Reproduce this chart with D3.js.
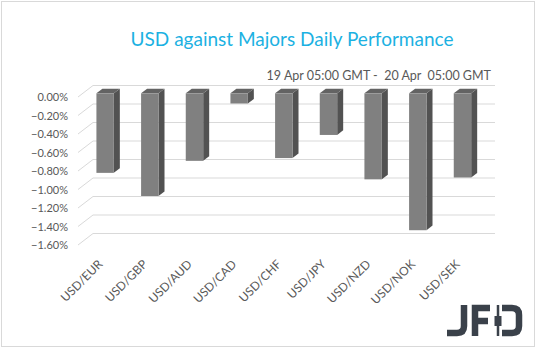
<!DOCTYPE html>
<html>
<head>
<meta charset="utf-8">
<script src="https://cdn.jsdelivr.net/npm/d3@7"></script>
<style>
  html, body { margin: 0; padding: 0; background: #fff; }
  svg { display: block; font-family: Lato, "Open Sans", sans-serif; }
</style>
</head>
<body>
<div id="chart"></div>
<script>
// Chart data
const pairs = ["USD/EUR", "USD/GBP", "USD/AUD", "USD/CAD", "USD/CHF", "USD/JPY", "USD/NZD", "USD/NOK", "USD/SEK"];
const changes = [-0.86, -1.11, -0.73, -0.11, -0.70, -0.45, -0.93, -1.48, -0.91];
const yTicks = [0, -0.2, -0.4, -0.6, -0.8, -1.0, -1.2, -1.4, -1.6];
const titleText = "USD against Majors Daily Performance";
const periodText = "19 Apr 05:00 GMT -  20 Apr  05:00 GMT";

(function () {
    const W = 538, H = 351;
    // 3D depth offset between front plane and back wall
    const depthX = 15, depthY = -11.5;

    const svg = d3.select("#chart")
        .append("svg")
        .attr("width", W)
        .attr("height", H);

    // outer frame
    svg.append("rect")
        .attr("x", 1.5).attr("y", 1.5)
        .attr("width", 533).attr("height", 345)
        .attr("fill", "#fff")
        .attr("stroke", "#d9d9d9");

    svg.append("text")
        .attr("x", 292).attr("y", 46)
        .attr("text-anchor", "middle")
        .attr("font-size", 19)
        .attr("fill", "#1cb1e2")
        .text(titleText);

    svg.append("text")
        .attr("x", 491).attr("y", 80)
        .attr("text-anchor", "end")
        .attr("font-size", 12.5)
        .attr("fill", "#595959")
        .style("white-space", "pre")
        .text(periodText);

    // scales on the front plane
    const x = d3.scaleBand()
        .domain(pairs)
        .range([78, 480])
        .paddingInner(0.61)
        .paddingOuter(0.305);

    const y = d3.scaleLinear()
        .domain([-1.6, 0])
        .range([245, 97]);

    // gridlines: side wall diagonal + back wall line
    const grid = svg.append("g");
    yTicks.forEach(t => {
        const yf = y(t);
        grid.append("path")
            .attr("d", `M78,${yf}L${78 + depthX},${yf + depthY}H495`)
            .attr("fill", "none")
            .attr("stroke", "#d9d9d9")
            .attr("stroke-width", 1);
    });

    // y axis labels
    const yAxis = svg.append("g")
        .attr("transform", "translate(68,0)")
        .call(d3.axisLeft(y).tickValues(yTicks).tickSize(0).tickPadding(0));
    yAxis.select(".domain").remove();
    yAxis.selectAll("text")
        .attr("font-family", "Lato, sans-serif")
        .attr("font-size", 11)
        .attr("fill", "#595959")
        .text(d => (d === 0 ? "0.00" : d3.format(".2f")(d)) + "%");

    // 3D bars
    const fd = 0.32, bd = 0.72; // front/back depth of bar boxes
    const bars = svg.append("g").selectAll("g")
        .data(pairs.map((p, i) => ({ pair: p, value: changes[i] })))
        .enter().append("g");

    function pt(px, py, d) { return [px + depthX * d, py + depthY * d]; }

    bars.each(function (d) {
        const g = d3.select(this);
        const x0 = x(d.pair), x1 = x0 + x.bandwidth();
        const y0 = y(0), yv = y(d.value);
        const poly = pts => "M" + pts.map(p => p.join(",")).join("L") + "Z";
        // side face
        g.append("path")
            .attr("d", poly([pt(x1, y0, fd), pt(x1, y0, bd), pt(x1, yv, bd), pt(x1, yv, fd)]))
            .attr("fill", "#525252");
        // top face
        g.append("path")
            .attr("d", poly([pt(x0, y0, fd), pt(x0, y0, bd), pt(x1, y0, bd), pt(x1, y0, fd)]))
            .attr("fill", "#636363");
        // front face
        const a = pt(x0, y0, fd), b = pt(x1, yv, fd);
        g.append("rect")
            .attr("x", a[0]).attr("y", a[1])
            .attr("width", b[0] - a[0]).attr("height", b[1] - a[1])
            .attr("fill", "#808080");
    });

    // category labels
    svg.append("g").selectAll("text")
        .data(pairs)
        .enter().append("text")
        .attr("transform", d => `translate(${x(d) + x.bandwidth() / 2 + 3},265) rotate(-45)`)
        .attr("text-anchor", "end")
        .attr("font-size", 12)
        .attr("fill", "#595959")
        .text(d => d);

    // JFD logo
    const logo = svg.append("g").attr("fill", "none").attr("stroke", "#3a414a").attr("stroke-width", 6.5);
    logo.append("path").attr("d", "M464,305V326Q464,333 457,333H447");
    logo.append("path").attr("d", "M490,308H475V336M475,321H488");
    logo.append("path").attr("d", "M502,308H512Q519,308 519,315V326Q519,333 512,333H502");
    logo.append("line").attr("x1", 498).attr("x2", 498).attr("y1", 305).attr("y2", 336).attr("stroke-width", 2.5);
    logo.append("rect").attr("x", 494.5).attr("y", 316).attr("width", 7).attr("height", 10)
        .attr("fill", "#3a414a").attr("stroke", "none");
})();
</script>
</body>
</html>
